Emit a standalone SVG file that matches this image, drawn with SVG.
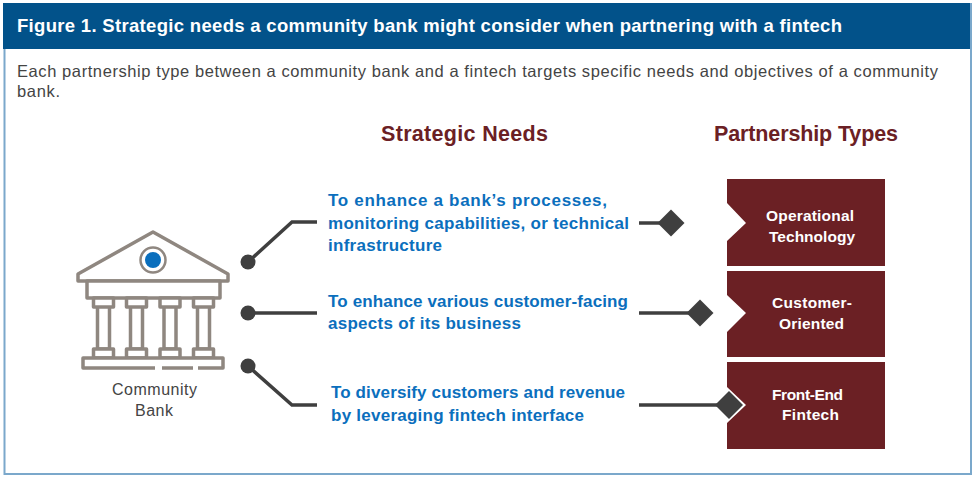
<svg xmlns="http://www.w3.org/2000/svg" width="975" height="480" viewBox="0 0 975 480">
<style>
text{font-family:"Liberation Sans",Arial,sans-serif}
.h{font-weight:700;font-size:21.500px;fill:#6b2024}
.n{font-weight:700;font-size:17px;fill:#0b6fbd}
.p{fill:#fff;font-weight:700;font-size:15.500px}
.t{fill:#444;font-size:16.500px}
.c{fill:none;stroke:#3f3f3f;stroke-width:3.500}
.d{fill:#3f3f3f}
.b{fill:#fff;stroke:#8f8780;stroke-width:3.500;stroke-linejoin:round}
</style>
<defs>
<g id="col">
<rect class="b" x="97.500" y="306" width="12" height="43"/>
<rect class="b" x="93.500" y="298" width="20" height="9"/>
<rect class="b" x="93.500" y="349" width="20" height="9"/>
</g>
</defs>
<rect width="975" height="480" fill="#fff"/>
<rect x="4.500" y="4" width="966.500" height="470" fill="#fff" stroke="#7ba8cb" stroke-width="2"/>
<rect x="3" y="3" width="967" height="46" fill="#02528a"/>
<text x="17" y="32" fill="#fff" font-weight="700" font-size="18.500" textLength="825" lengthAdjust="spacing">Figure 1. Strategic needs a community bank might consider when partnering with a fintech</text>
<text class="t" x="17" y="77" textLength="921" lengthAdjust="spacing">Each partnership type between a community bank and a fintech targets specific needs and objectives of a community</text>
<text class="t" x="17" y="97" textLength="43" lengthAdjust="spacing">bank.</text>
<text class="h" x="381" y="141" textLength="167" lengthAdjust="spacing">Strategic Needs</text>
<text class="h" x="714" y="141" textLength="184" lengthAdjust="spacing">Partnership Types</text>
<g id="bank">
<path class="b" d="M78 274 153 232 228 274V281H78Z"/>
<circle cx="153" cy="260" r="12.500" fill="#fff" stroke="#8f8780" stroke-width="2.500"/>
<circle cx="153" cy="260" r="8" fill="#0b6fbd"/>
<rect class="b" x="87" y="281" width="133" height="17"/>
<g id="columns">
<use href="#col"/>
<use href="#col" x="33"/>
<use href="#col" x="66.500"/>
<use href="#col" x="100"/>
</g>
<rect class="b" x="83" y="358" width="140" height="10"/>
<path d="M155 368H162M193 368H198" stroke="#fff" stroke-width="4.500"/>
<text x="112" y="395" fill="#444" font-size="16" textLength="85" lengthAdjust="spacing">Community</text>
<text x="135" y="416" fill="#444" font-size="16" textLength="38" lengthAdjust="spacing">Bank</text>
</g>
<g id="connectors">
<path class="c" d="M248 262 292 222H317"/>
<circle class="d" cx="248" cy="262" r="7.500"/>
<path class="c" d="M248 313H317"/>
<circle class="d" cx="248" cy="313" r="7.500"/>
<path class="c" d="M248 366 292 405H317"/>
<circle class="d" cx="248" cy="366" r="7.500"/>
<path class="c" d="M639 223H665"/>
<path class="d" d="M671 209.500 684.500 223 671 236.500 657.500 223Z"/>
<path class="c" d="M639 313H695"/>
<path class="d" d="M700 299.500 713.500 313 700 326.500 686.500 313Z"/>
<path class="c" d="M639 405H725"/>
</g>
<g id="need1"><text class="n" x="328" y="206" textLength="279" lengthAdjust="spacing">To enhance a bank’s processes,</text><text class="n" x="328" y="229" textLength="301" lengthAdjust="spacing">monitoring capabilities, or technical</text><text class="n" x="328" y="251" textLength="114" lengthAdjust="spacing">infrastructure</text></g>
<g id="need2"><text class="n" x="328" y="307" textLength="300" lengthAdjust="spacing">To enhance various customer-facing</text><text class="n" x="328" y="329" textLength="193" lengthAdjust="spacing">aspects of its business</text></g>
<g id="need3"><text class="n" x="331" y="398" textLength="294" lengthAdjust="spacing">To diversify customers and revenue</text><text class="n" x="331" y="421" textLength="253" lengthAdjust="spacing">by leveraging fintech interface</text></g>
<g id="type1"><path fill="#6b2024" d="M727 179H885V266H727V241L746 223 727 203Z"/><text class="p" x="766" y="221" textLength="88" lengthAdjust="spacing">Operational</text><text class="p" x="769" y="242" textLength="86" lengthAdjust="spacing">Technology</text></g>
<g id="type2"><path fill="#6b2024" d="M727 271H885V357H727V332L746 313 727 295Z"/><text class="p" x="772" y="308" textLength="80" lengthAdjust="spacing">Customer-</text><text class="p" x="779" y="329" textLength="65" lengthAdjust="spacing">Oriented</text></g>
<g id="type3"><path fill="#6b2024" d="M727 362H885V449H727V423L746 405 727 387Z"/><text class="p" x="772" y="400" textLength="71" lengthAdjust="spacing">Front-End</text><text class="p" x="782" y="420" textLength="57" lengthAdjust="spacing">Fintech</text></g>
<path id="diamond3" class="d" d="M729 391 743 405 729 419 715 405Z"/>
</svg>
